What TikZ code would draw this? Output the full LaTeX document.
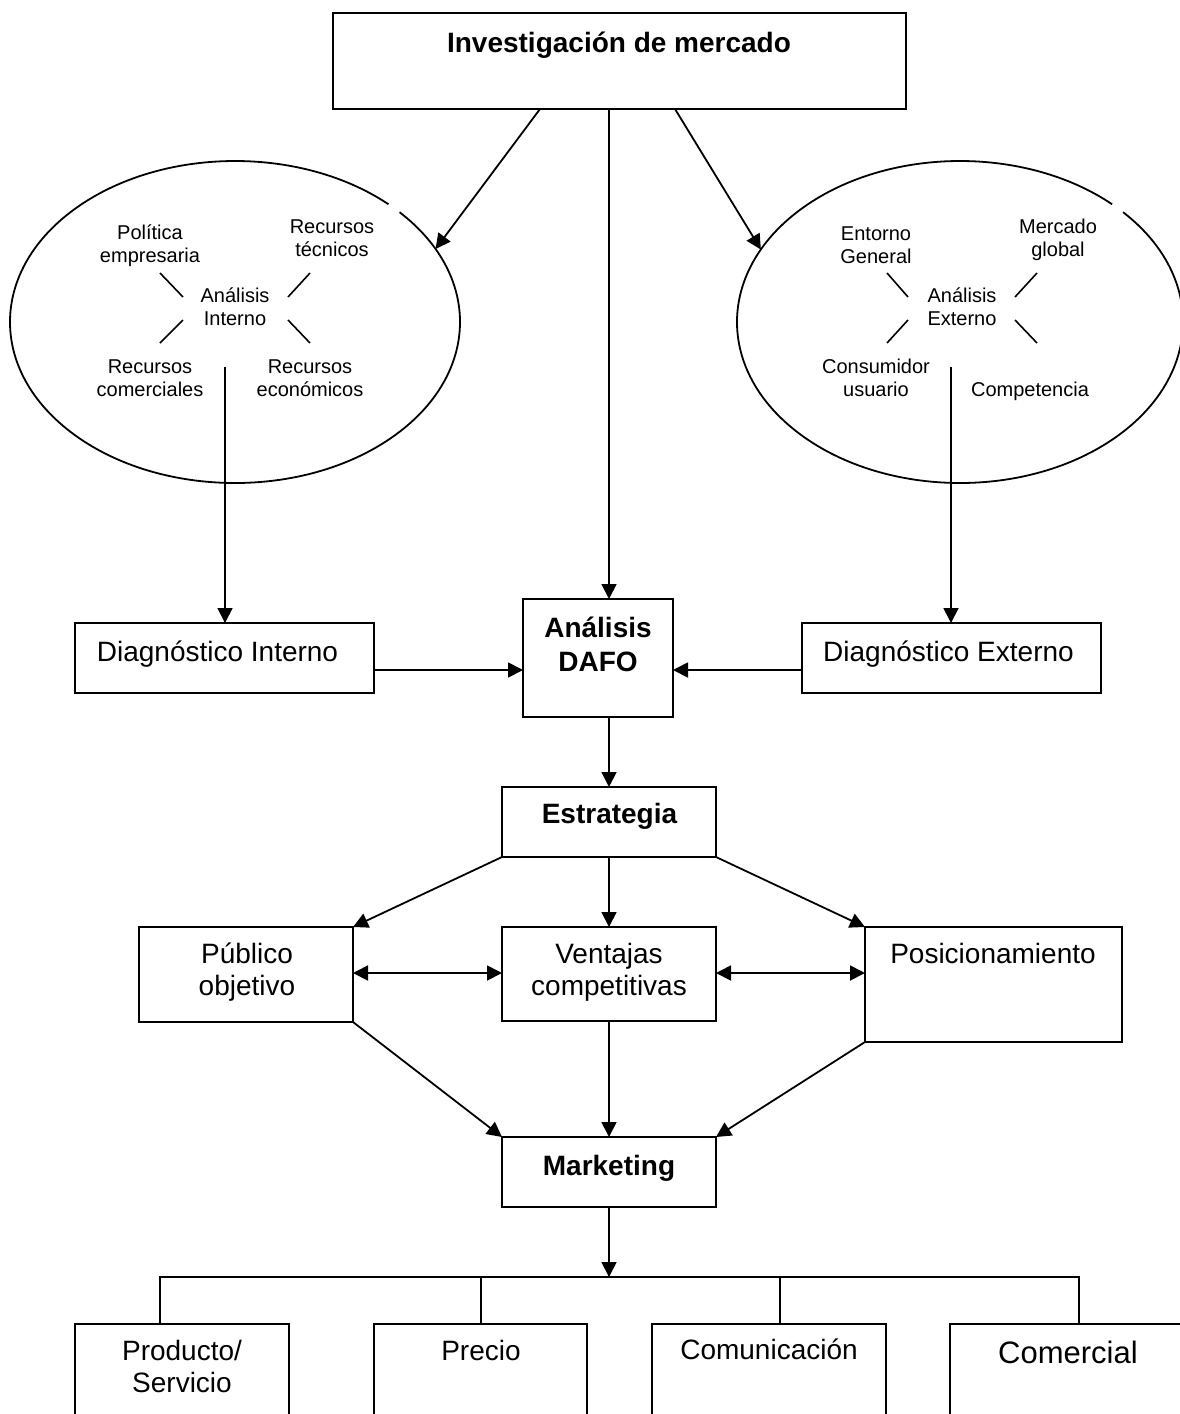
\documentclass[tikz,border=0pt]{standalone}
\usepackage{fontspec}
\setmainfont{Liberation Sans}
\usetikzlibrary{arrows.meta,shapes.geometric}
\begin{document}
\begin{tikzpicture}[x=1pt,y=-1pt,
  box/.style={draw,line width=1.8pt,rectangle,inner sep=0pt,outer sep=0pt},
  oval/.style={ellipse,inner sep=0pt,outer sep=0pt},
  big/.style={inner sep=0pt,anchor=base,align=center,font=\fontsize{28}{32}\selectfont},
  bigb/.style={inner sep=0pt,anchor=base,align=center,font=\fontsize{28}{34}\selectfont\bfseries},
  small/.style={inner sep=0pt,anchor=base,align=center,font=\fontsize{20}{23}\selectfont},
  link/.style={line width=1.8pt},
  arr/.style={link,-{Triangle[length=15pt,width=15pt]}},
  darr/.style={link,{Triangle[length=15pt,width=15pt]}-{Triangle[length=15pt,width=15pt]}},
  tick/.style={line width=1.6pt}
]
\useasboundingbox (0,0) rectangle (1180,1414);
\clip (0,0) rectangle (1180,1414);
\fill[white] (0,0) rectangle (1180,1414);

% ---------- boxes (text nodes are placed by the baseline of their last line) ----------
\node[box,minimum width=573,minimum height=96] (inv) at (619.5,61) {};
\node[bigb] (invT) at (619,52) {Investigación de mercado};

\node[box,minimum width=299,minimum height=70] (dint) at (224.5,658) {};
\node[big] (dintT) at (217.5,661) {Diagnóstico Interno};
\node[box,minimum width=299,minimum height=70] (dext) at (951.5,658) {};
\node[big] (dextT) at (948.5,661) {Diagnóstico Externo};
\node[box,minimum width=150,minimum height=118] (dafo) at (598,658) {};
\node[bigb] (dafoT) at (598,671) {Análisis\\DAFO};

\node[box,minimum width=214,minimum height=70] (estr) at (609,822) {};
\node[bigb] (estrT) at (609.5,823) {Estrategia};

\node[box,minimum width=214,minimum height=95] (pub) at (246,974.5) {};
\node[big] (pubT) at (247,995) {Público\\objetivo};
\node[box,minimum width=214,minimum height=94] (vent) at (609,974) {};
\node[big] (ventT) at (609,995) {Ventajas\\competitivas};
\node[box,minimum width=257,minimum height=115] (pos) at (993.5,984.5) {};
\node[big] (posT) at (993,963) {Posicionamiento};

\node[box,minimum width=214,minimum height=70] (mkt) at (609,1172) {};
\node[bigb] (mktT) at (609,1175) {Marketing};

\node[box,minimum width=214,minimum height=106] (prod) at (182,1377) {};
\node[big] (prodT) at (182,1392) {Producto/\\Servicio};
\node[box,minimum width=213,minimum height=106] (prec) at (480.5,1377) {};
\node[big] (precT) at (481,1360) {Precio};
\node[box,minimum width=234,minimum height=106] (comu) at (769,1377) {};
\node[big] (comuT) at (769,1359) {Comunicación};
\node[box,minimum width=236,minimum height=106] (come) at (1068,1377) {};
\node[inner sep=0pt,anchor=base,font=\fontsize{31}{35}\selectfont] (comeT) at (1068,1363) {Comercial};

% ---------- ovals ----------
\node[oval,minimum width=450,minimum height=322] (intL) at (235,322) {};
\node[oval,minimum width=446,minimum height=322] (extR) at (960,322) {};
\draw[link] ([shift={(-43:225 and 161)}]intL.center)
  arc[start angle=-43,end angle=313,x radius=225,y radius=161];
\draw[link] ([shift={(-43:223 and 161)}]extR.center)
  arc[start angle=-43,end angle=313,x radius=223,y radius=161];

% internal analysis
\node[small] (polT) at (150,262) {Política\\empresaria};
\node[small] (tecT) at (332,256) {Recursos\\técnicos};
\node[small] (aiT) at (235,325) {Análisis\\Interno};
\node[small] (comT) at (150,396) {Recursos\\comerciales};
\node[small] (ecoT) at (310,396) {Recursos\\económicos};
\draw[tick] (160,273) -- (183,297);
\draw[tick] (310,273) -- (288,297);
\draw[tick] (183,320) -- (160,343);
\draw[tick] (288,320) -- (310,343);

% external analysis
\node[small] (entT) at (876,263) {Entorno\\General};
\node[small] (merT) at (1058,256) {Mercado\\global};
\node[small] (aeT) at (962,325) {Análisis\\Externo};
\node[small] (conT) at (876,396) {Consumidor\\usuario};
\node[small] (cpeT) at (1030,396) {Competencia};
\draw[tick] (887,273) -- (908,297);
\draw[tick] (1037,273) -- (1015,297);
\draw[tick] (908,320) -- (887,343);
\draw[tick] (1015,320) -- (1037,343);

% ---------- connectors ----------
\coordinate (xa) at (540,0);
\coordinate (xb) at (675,0);
\draw[arr] (inv.south -| xa) -- (intL.20);
\draw[arr] (inv.south -| xb) -- (extR.160);
\draw[arr] (inv.south -| estr.north) -- (dafo.north -| estr.north);

\coordinate (ldrop) at (225,367);
\coordinate (rdrop) at (951,367);
\draw[arr] (ldrop) -- (ldrop |- dint.north);
\draw[arr] (rdrop) -- (rdrop |- dext.north);

\coordinate (row) at (0,670);
\draw[arr] (dint.east |- row) -- (dafo.west |- row);
\draw[arr] (dext.west |- row) -- (dafo.east |- row);
\draw[arr] (estr.north |- dafo.south) -- (estr.north);

\draw[arr] (estr.south west) -- (pub.north east);
\draw[arr] (estr.south) -- (vent.north);
\draw[arr] (estr.south east) -- (pos.north west);

\coordinate (mid) at (0,973);
\draw[darr] (pub.east |- mid) -- (vent.west |- mid);
\draw[darr] (vent.east |- mid) -- (pos.west |- mid);

\draw[arr] (pub.south east) -- (mkt.north west);
\draw[arr] (vent.south) -- (mkt.north);
\draw[arr] (pos.south west) -- (mkt.north east);

\coordinate (bus) at (609,1277);
\coordinate (b1) at (160,1277);
\coordinate (b2) at (481,1277);
\coordinate (b3) at (780,1277);
\coordinate (b4) at (1079,1277);
\draw[arr] (mkt.south) -- (bus);
\draw[link] (b1 |- prod.north) -- (b1) -- (b4) -- (b4 |- come.north);
\draw[link] (b2) -- (b2 |- prec.north);
\draw[link] (b3) -- (b3 |- comu.north);
\end{tikzpicture}
\end{document}
